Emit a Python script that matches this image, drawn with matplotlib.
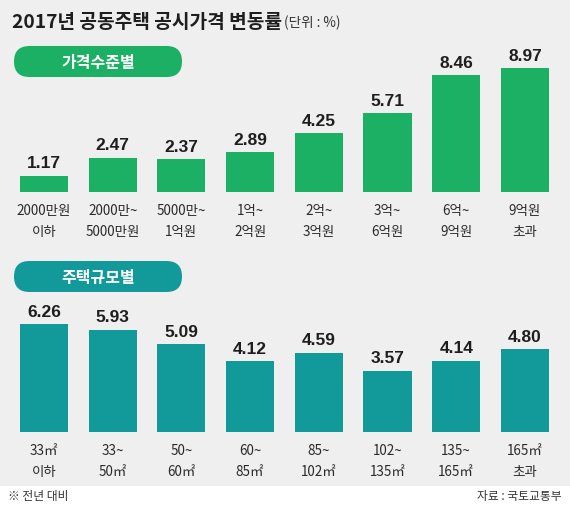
import matplotlib
matplotlib.use("Agg")
import matplotlib.pyplot as plt
from matplotlib.patches import FancyBboxPatch, Rectangle

plt.rcParams['font.family'] = ['Noto Sans CJK KR', 'DejaVu Sans']

title = "2017년 공동주택 공시가격 변동률"
unit = "(단위 : %)"
price_section = "가격수준별"
size_section = "주택규모별"
price_labels = ["2000만원\n이하", "2000만~\n5000만원", "5000만~\n1억원", "1억~\n2억원",
                "2억~\n3억원", "3억~\n6억원", "6억~\n9억원", "9억원\n초과"]
price_values = [1.17, 2.47, 2.37, 2.89, 4.25, 5.71, 8.46, 8.97]
size_labels = ["33㎡\n이하", "33~\n50㎡", "50~\n60㎡", "60~\n85㎡",
               "85~\n102㎡", "102~\n135㎡", "135~\n165㎡", "165㎡\n초과"]
size_values = [6.26, 5.93, 5.09, 4.12, 4.59, 3.57, 4.14, 4.80]
note = "※ 전년 대비"
source = "자료 : 국토교통부"

W, H = 570, 506
BG = "#efefef"
GREEN = "#1bb064"
TEAL = "#12999a"
TXT = "#2a2a2a"

fig = plt.figure(figsize=(W / 100, H / 100), dpi=100, facecolor=BG)

# overlay in pixel coordinates
ov = fig.add_axes([0, 0, 1, 1], zorder=0)
ov.set_xlim(0, W)
ov.set_ylim(H, 0)
ov.axis("off")
ov.add_patch(Rectangle((0, 487), W, H - 487, facecolor="white", edgecolor="none"))
ov.text(12, 22, title, fontsize=13.8, fontweight="bold", color="#1e1e1e", va="center", ha="left")
ov.text(284, 23, unit, fontsize=9.8, color="#333333", va="center", ha="left")
for (y0, col, lab) in [(47, GREEN, price_section), (262, TEAL, size_section)]:
    h = 31
    ov.add_patch(FancyBboxPatch((14, y0), 168, h,
                                boxstyle=f"round,pad=0,rounding_size={h/2}",
                                facecolor=col, edgecolor="none"))
    ov.text(98, y0 + h / 2, lab, fontsize=11.5, color="white", fontweight="bold",
            ha="center", va="center")
ov.text(8, 497, note, fontsize=8.5, color="#333333", ha="left", va="center")
ov.text(562, 497, source, fontsize=8.5, color="#333333", ha="right", va="center")


def panel(bottom_px, px_per_unit, ymax, values, labels, color):
    left = 9.65 / W
    width = 549.6 / W
    hpx = px_per_unit * ymax
    ax = fig.add_axes([left, 1 - bottom_px / H, width, hpx / H], zorder=1)
    ax.set_facecolor("none")
    x = list(range(len(values)))
    ax.bar(x, values, width=0.7, color=color, edgecolor="none")
    ax.set_xlim(-0.5, len(values) - 0.5)
    ax.set_ylim(0, ymax)
    for xi, v in zip(x, values):
        ax.annotate(f"{v:.2f}", (xi, v), xytext=(0, 4), textcoords="offset points",
                    ha="center", va="bottom", fontsize=12.5, fontweight="bold",
                    family=['Liberation Sans', 'DejaVu Sans'], color="#1e1e1e")
    ax.set_xticks(x)
    ax.set_xticklabels(labels, fontsize=9.7, color=TXT, linespacing=1.65)
    ax.tick_params(axis="x", length=0, pad=8)
    ax.set_yticks([])
    for s in ax.spines.values():
        s.set_visible(False)
    return ax


panel(193, 13.8, 10, price_values, price_labels, GREEN)
panel(433, 17.2, 7, size_values, size_labels, TEAL)

fig.savefig("out.png", dpi=100, facecolor=BG)
